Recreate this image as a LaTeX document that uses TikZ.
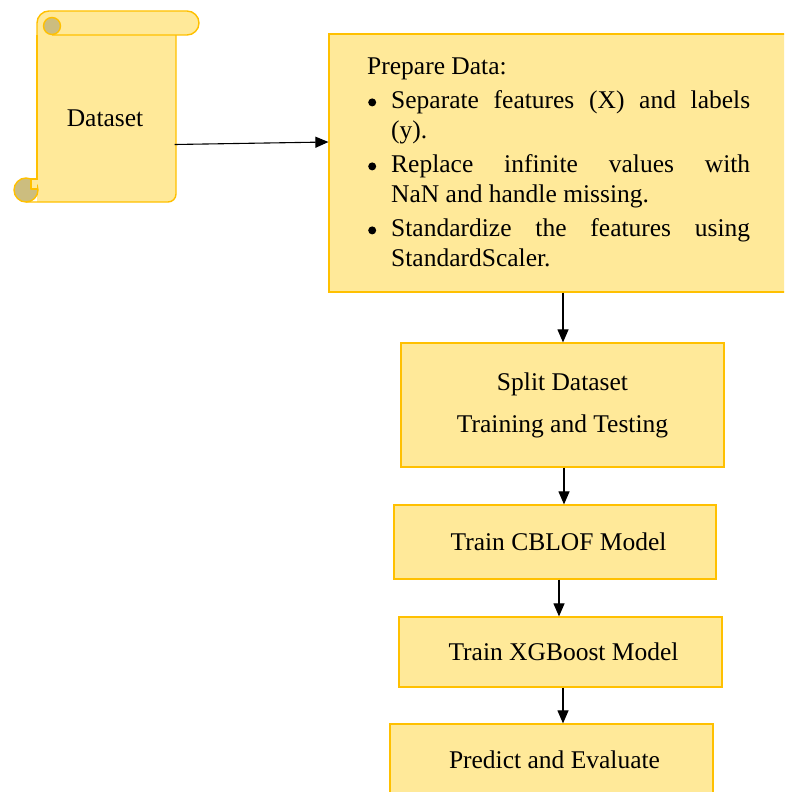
\documentclass[tikz,border=0pt]{standalone}
\usepackage{fontspec}
\setmainfont{Liberation Serif}
\usetikzlibrary{arrows.meta}
\definecolor{fillY}{HTML}{FFE999}
\definecolor{lineY}{HTML}{FFC000}
\definecolor{curlG}{HTML}{CCBD7F}
\newcommand\mybullet{\tikz[baseline=0pt]\fill[black] (4pt,6.5pt) circle[radius=4pt];}
\newcommand\bitem[1]{\par\hangindent=24pt\hangafter=1\noindent\makebox[24pt][l]{\hspace{1pt}\mybullet}#1}
\begin{document}
\begin{tikzpicture}[x=1pt,y=-1pt,
  box/.style={draw=lineY, fill=fillY, line width=1.2pt, inner sep=0pt},
  scrollline/.style={draw=lineY, line width=1.4pt, line join=round},
  arr/.style={-{Triangle[length=13pt,width=11pt]}, line width=1.1pt},
  txt/.style={font=\fontsize{25.5}{30}\selectfont}]
\useasboundingbox (0,0) rectangle (784,792);
\clip (0,0) rectangle (784,792);
% ---- scroll (Dataset)
\fill[fillY] (37,30) -- (37,202) -- (168,202) arc[start angle=90,end angle=0,radius=8] -- (176,30) -- cycle;
\draw[scrollline] (37,35) -- (37,180);
\draw[scrollline] (26,202) -- (168,202) arc[start angle=90,end angle=0,radius=8] -- (176,35);
\filldraw[scrollline, fill=curlG] (26,190) circle[radius=12];
\filldraw[scrollline, fill=fillY] (37,179) -- (31,179) -- (31,189) -- (37,189);
\filldraw[scrollline, fill=fillY] (37,35) -- (37,23) arc[start angle=180,end angle=270,radius=12]
  -- (187,11) arc[start angle=270,end angle=450,radius=12] -- (52,35);
\filldraw[scrollline, fill=curlG] (52,26) circle[radius=8.5];
\node[txt, minimum width=139pt, minimum height=167pt, inner sep=0pt] (ds) at (105,118) {Dataset};
% ---- boxes
\node[box, minimum width=475pt, minimum height=258pt] (prep) at (566.5,163) {};
\node[txt, anchor=north west, text width=383pt, inner sep=0pt, align=justify] (preptext) at (367,58)
 {\setlength\parskip{4pt}\noindent Prepare Data:%
  \bitem{Separate features (X) and labels\linebreak (y).}%
  \bitem{Replace infinite values with\linebreak NaN and handle missing.}%
  \bitem{Standardize the features using\linebreak StandardScaler.}\par};
\node[box, txt, minimum width=323pt, minimum height=124pt, align=center] (split) at (562.5,405)
 {Split Dataset\\[12pt]Training and Testing};
\node[box, txt, minimum width=322pt, minimum height=74pt] (cblof) at (555,542) {\hspace{7pt}Train CBLOF Model};
\node[box, txt, minimum width=323pt, minimum height=70pt] (xgb) at (560.5,652) {\hspace{6pt}\raisebox{-4pt}{Train XGBoost Model}};
\node[box, txt, minimum width=323pt, minimum height=72pt] (pred) at (551.5,760) {\hspace{6pt}Predict and Evaluate};
% ---- connectors
\coordinate (c1) at (563,0);
\coordinate (c2) at (564,0);
\coordinate (c3) at (559,0);
\coordinate (c4) at (563,0);
\draw[arr] ([yshift=-26.5pt]ds.east) -- ([yshift=21pt]prep.west);
\draw[arr] (prep.south -| c1) -- (split.north -| c1);
\draw[arr] (split.south -| c2) -- (cblof.north -| c2);
\draw[arr] (cblof.south -| c3) -- (xgb.north -| c3);
\draw[arr] (xgb.south -| c4) -- (pred.north -| c4);
\end{tikzpicture}
\end{document}
